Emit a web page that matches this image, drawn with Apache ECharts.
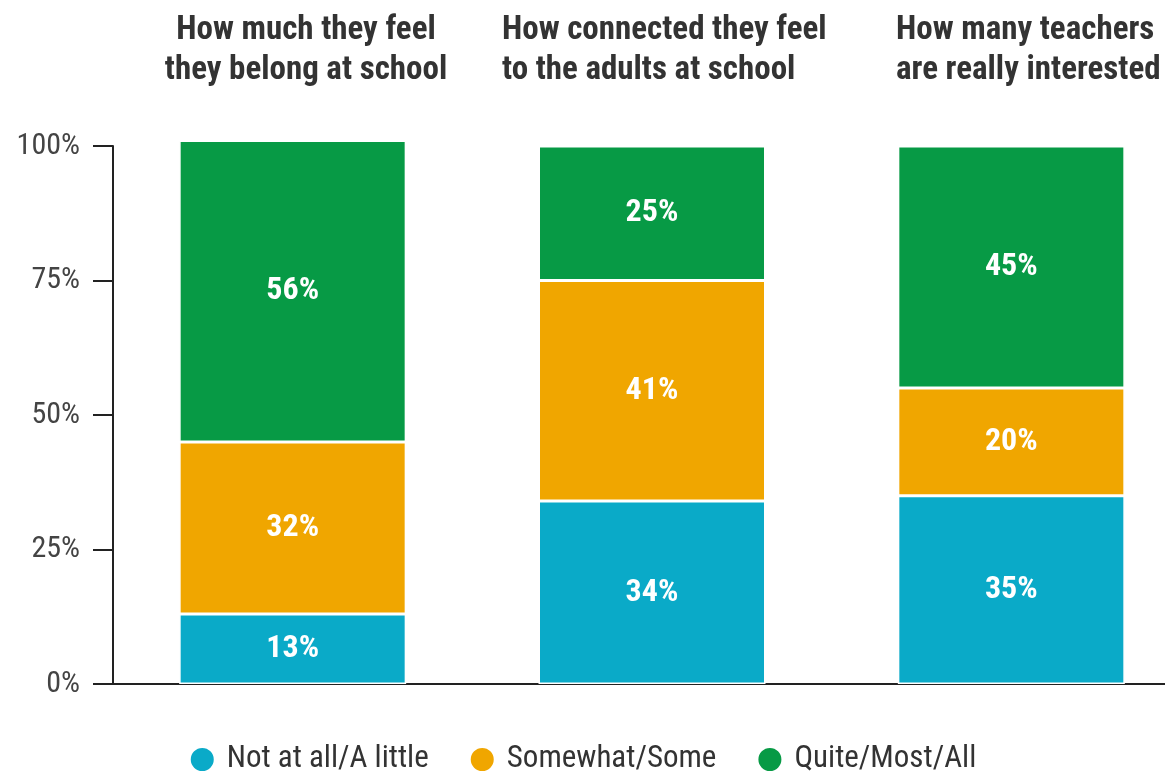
<!DOCTYPE html>
<html><head><meta charset="utf-8">
<script src="https://cdn.jsdelivr.net/npm/echarts@6/dist/echarts.min.js"></script>
<style>html,body{margin:0;padding:0;background:#fff}#c{width:1165px;height:775px}</style>
</head><body><div id="c"></div>
<script>
const categories = ['How much they feel\nthey belong at school', 'How connected they feel\nto the adults at school', 'How many teachers\nare really interested'];
const seriesNames = ['Not at all/A little', 'Somewhat/Some', 'Quite/Most/All'];
const notAtAll = [13, 34, 35];
const somewhat = [32, 41, 20];
const quite = [56, 25, 45];
const yTicks = [0, 25, 50, 75, 100];
const colors = ['#0AAAC8', '#F0A600', '#079A45'];
const FONT = '"Roboto Condensed", "Liberation Sans Narrow", "DejaVu Sans Condensed", Roboto, sans-serif';

const chart = echarts.init(document.getElementById('c'));
const titlePos = [{ left: 301, align: 'center' }, { left: 497, align: 'left' }, { left: 891, align: 'left' }];
const mk = (name, data, i) => ({
  name, type: 'bar', stack: 'a', data, barWidth: 227, clip: false,
  itemStyle: { color: colors[i], borderColor: '#fff', borderWidth: 1.5 },
  label: { show: true, position: 'inside', color: '#fff', fontFamily: FONT, fontWeight: 'bold', fontSize: 32, formatter: p => p.value + '%' }
});
chart.setOption({
  animation: false,
  title: categories.map((c, i) => ({
    text: c, left: titlePos[i].left, top: 6, textAlign: titlePos[i].align,
    textStyle: { fontFamily: FONT, fontWeight: 'bold', fontSize: 33, color: '#333', lineHeight: 40 }
  })),
  grid: { left: 113, width: 1078, top: 146, bottom: 91, containLabel: false, outerBoundsMode: 'none' },
  legend: {
    top: 739, left: 'center', icon: 'circle', itemWidth: 25, itemHeight: 25, itemGap: 40,
    textStyle: { fontFamily: FONT, fontSize: 31, color: '#333', padding: [0, 0, 0, 7] }, data: seriesNames
  },
  xAxis: {
    type: 'category', data: categories,
    axisLine: { lineStyle: { color: '#222', width: 2 } },
    axisTick: { show: false }, axisLabel: { show: false }
  },
  yAxis: {
    type: 'value', min: yTicks[0], max: yTicks[yTicks.length - 1], interval: 25,
    axisLine: { show: true, lineStyle: { color: '#222', width: 2 } },
    axisTick: { show: true, length: 20, lineStyle: { color: '#222', width: 2 } },
    splitLine: { show: false },
    axisLabel: { fontFamily: FONT, fontSize: 30, color: '#444', margin: 33, formatter: v => v + '%' }
  },
  series: [mk(seriesNames[0], notAtAll, 0), mk(seriesNames[1], somewhat, 1), mk(seriesNames[2], quite, 2)]
});
</script></body></html>
